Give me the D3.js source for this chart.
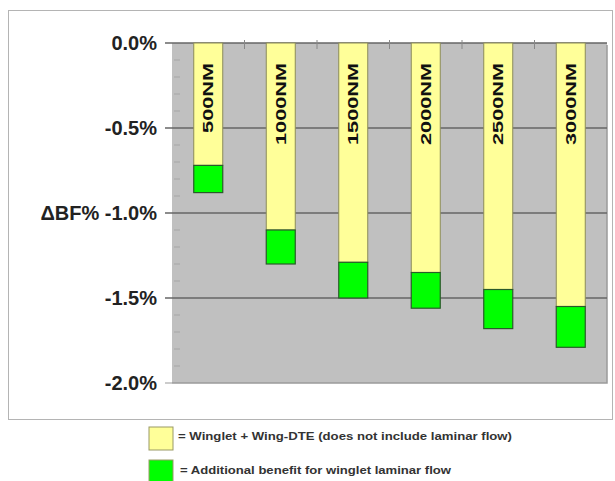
<!DOCTYPE html>
<html>
<head>
<meta charset="utf-8">
<script src="https://cdn.jsdelivr.net/npm/d3@7"></script>
<style>
  body { margin: 0; background: #fff; overflow: hidden; }
  svg { display: block; }
  text { font-family: Arial, "Liberation Sans", sans-serif; }
</style>
</head>
<body>
<svg id="chart" width="615" height="481"></svg>
<script>
// data
var categories = ["500NM", "1000NM", "1500NM", "2000NM", "2500NM", "3000NM"];
var wingletDte = [-0.72, -1.10, -1.29, -1.35, -1.45, -1.55];   // yellow part
var laminarExtra = [-0.16, -0.20, -0.21, -0.21, -0.23, -0.24]; // green part, stacked below
var yTicks = [0, -0.5, -1.0, -1.5, -2.0];
var yMinor = [-0.1, -0.2, -0.3, -0.4, -0.6, -0.7, -0.8, -0.9, -1.1, -1.2, -1.3, -1.4, -1.6, -1.7, -1.8, -1.9];
var legendItems = [
  {label: "= Winglet + Wing-DTE (does not include laminar flow)", color: "#ffff99"},
  {label: "= Additional benefit for winglet laminar flow", color: "#00ff00"}
];

var svg = d3.select("#chart");

var pLeft = 172, pRight = 607, pTop = 43, pBottom = 383;

var x = d3.scaleBand()
    .domain(categories)
    .range([pLeft, pRight])
    .paddingInner(0.6)
    .paddingOuter(0.3);

var y = d3.scaleLinear()
    .domain([0, -2])
    .range([pTop, pBottom]);

var fmt = d3.format(".1f");

// outer frame
svg.append("rect")
    .attr("x", 8.5).attr("y", 10.5)
    .attr("width", 604).attr("height", 409)
    .style("fill", "#fff")
    .style("stroke", "#b4b4b4");

// plot area
svg.append("rect")
    .attr("x", pLeft).attr("y", pTop)
    .attr("width", pRight - pLeft).attr("height", pBottom - pTop)
    .style("fill", "#c0c0c0");
// little shadow at right / bottom
svg.append("path")
    .attr("d", "M" + pRight + "," + (pTop + 2) + " V" + pBottom + " H" + pLeft)
    .style("fill", "none")
    .style("stroke", "#9a9a9a")
    .style("stroke-width", 1.5);

// minor ticks inside left edge
svg.selectAll(".minor")
    .data(yMinor)
  .enter().append("line")
    .attr("x1", pLeft + 2).attr("x2", pLeft + 8)
    .attr("y1", function(d){ return y(d); })
    .attr("y2", function(d){ return y(d); })
    .style("stroke", "#a6a6a6");

// major gridlines + ticks
svg.selectAll(".grid")
    .data(yTicks)
  .enter().append("line")
    .attr("x1", pLeft - 7)
    .attr("x2", function(d){ return d == -2 ? pLeft : pRight; })
    .attr("y1", function(d){ return y(d); })
    .attr("y2", function(d){ return y(d); })
    .style("stroke", function(d){ return d == -2 ? "#bbb" : "#666"; })
    .style("stroke-width", 1.5);

// category ticks on the top axis (between bands)
svg.selectAll(".ctick")
    .data(categories.slice(1))
  .enter().append("line")
    .attr("x1", function(d){ return x(d) - x.step() * x.paddingInner() / 2; })
    .attr("x2", function(d){ return x(d) - x.step() * x.paddingInner() / 2; })
    .attr("y1", pTop - 3).attr("y2", pTop + 6)
    .style("stroke", "#888");

// y labels (plain hyphen like the original)
svg.selectAll(".ylab")
    .data(yTicks)
  .enter().append("text")
    .attr("x", 157)
    .attr("y", function(d){ return y(d) + 7; })
    .attr("text-anchor", "end")
    .style("font-size", "20px")
    .style("font-weight", "bold")
    .style("fill", "#222")
    .text(function(d){
      var s = (d < 0 ? "-" : "") + fmt(Math.abs(d)) + "%";
      return (d == -1 ? "\u0394BF% " : "") + s;
    });

// yellow bars
svg.selectAll(".ybar")
    .data(categories)
  .enter().append("rect")
    .attr("x", function(d){ return x(d); })
    .attr("y", y(0))
    .attr("width", x.bandwidth())
    .attr("height", function(d, i){ return y(wingletDte[i]) - y(0); })
    .style("fill", "#ffff99")
    .style("stroke", "#8a8a5a")
    .style("stroke-width", 1);

// green bars
svg.selectAll(".gbar")
    .data(categories)
  .enter().append("rect")
    .attr("x", function(d){ return x(d); })
    .attr("y", function(d, i){ return y(wingletDte[i]); })
    .attr("width", x.bandwidth())
    .attr("height", function(d, i){ return y(wingletDte[i] + laminarExtra[i]) - y(wingletDte[i]); })
    .style("fill", "#00ff00")
    .style("stroke", "#2a5a2a")
    .style("stroke-width", 1.2);

// rotated labels inside bars
svg.selectAll(".blab")
    .data(categories)
  .enter().append("text")
    .attr("transform", function(d){
      return "translate(" + (x(d) + x.bandwidth() / 2 + 5) + "," + (pTop + 20) + ") rotate(-90) scale(1.55,1)";
    })
    .attr("text-anchor", "end")
    .style("font-size", "14px")
    .style("font-weight", "bold")
    .style("fill", "#111")
    .text(function(d){ return d; });

// legend
var legend = svg.selectAll(".leg")
    .data(legendItems)
  .enter().append("g")
    .attr("transform", function(d, i){ return "translate(149," + (427 + i * 33) + ")"; });

legend.append("rect")
    .attr("width", 24).attr("height", 23)
    .style("fill", function(d){ return d.color; })
    .style("stroke", "#999966");

legend.append("text")
    .attr("x", function(d, i){ return i == 0 ? 29 : 31; })
    .attr("y", function(d, i){ return i == 0 ? 13 : 14; })
    .attr("textLength", function(d, i){ return i == 0 ? 334 : 271; })
    .attr("lengthAdjust", "spacingAndGlyphs")
    .style("font-size", "10px")
    .style("font-weight", "bold")
    .style("fill", "#333")
    .text(function(d){ return d.label; });
</script>
</body>
</html>
